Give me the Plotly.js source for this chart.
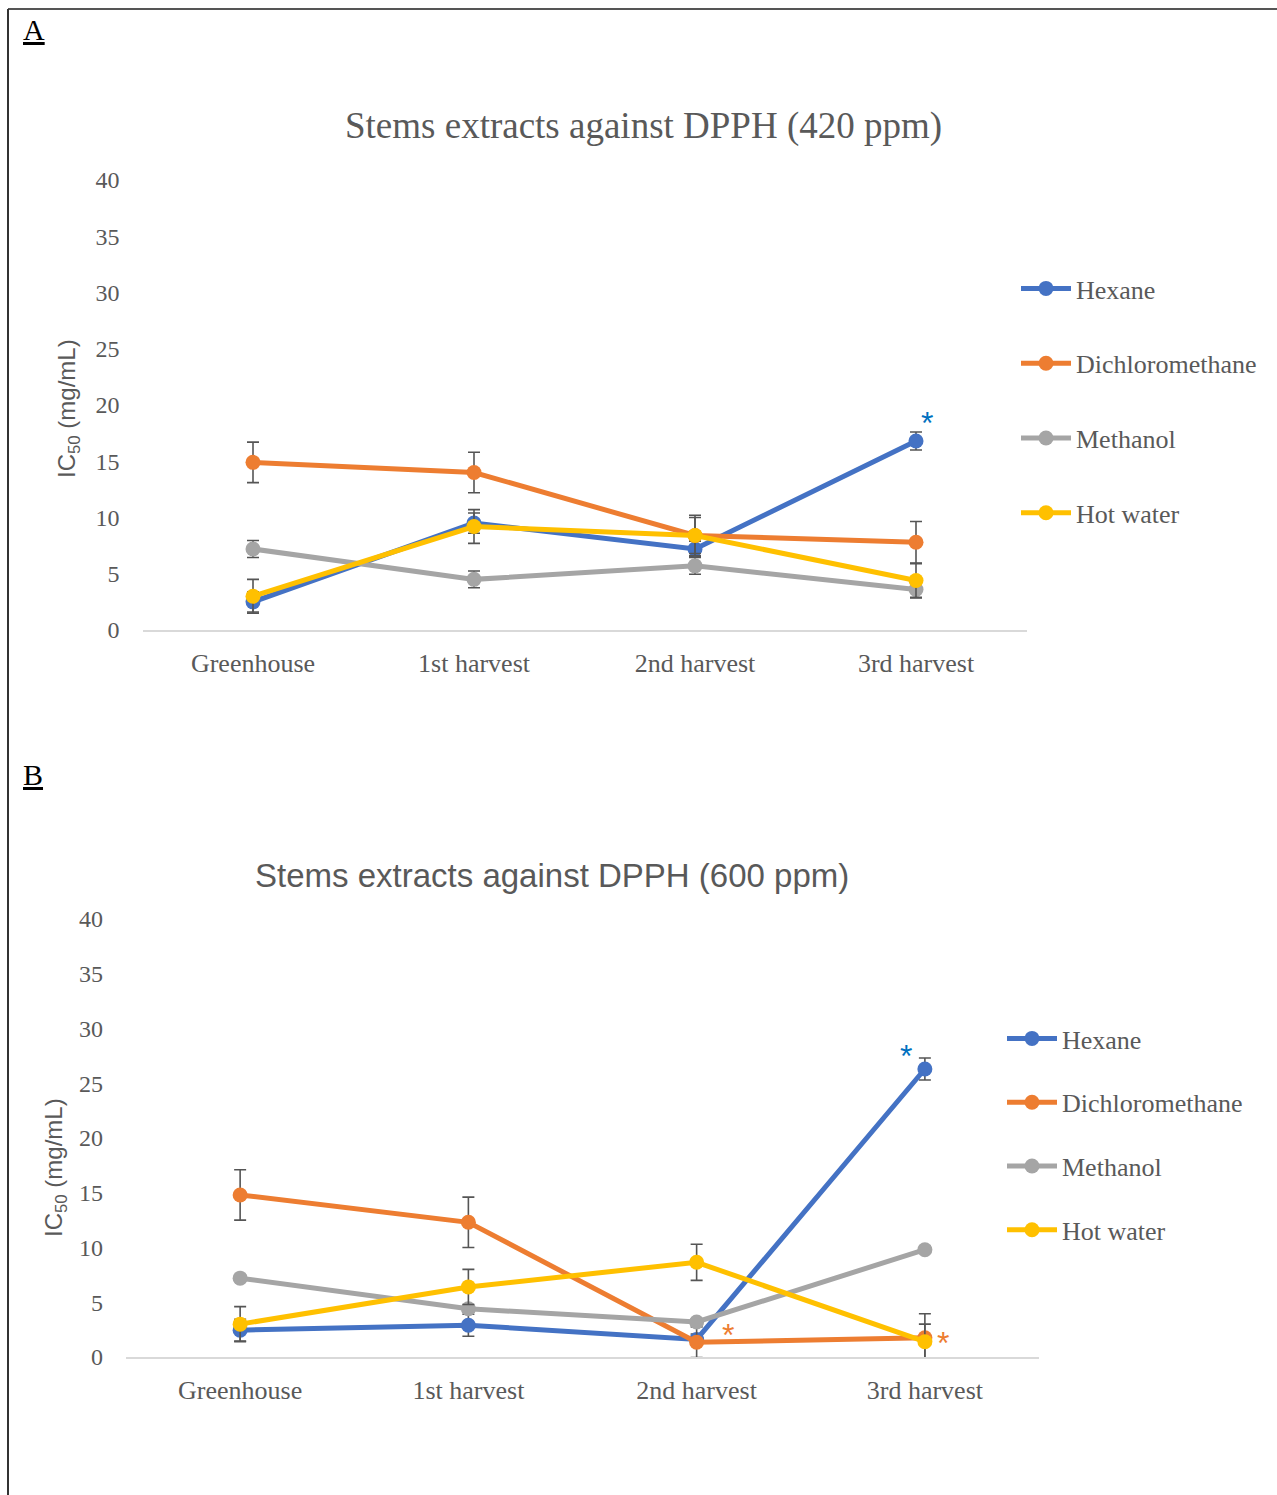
<!DOCTYPE html>
<html>
<head>
<meta charset="utf-8">
<script src="https://cdn.plot.ly/plotly-3.0.1.min.js"></script>
<style>html,body{margin:0;padding:0;background:#fff;}#chart{width:1277px;height:1495px;}</style>
</head>
<body>
<div id="chart"></div>
<script>
// ---- data ----
var categories = ['Greenhouse', '1st harvest', '2nd harvest', '3rd harvest'];
var seriesNames = ['Hexane', 'Dichloromethane', 'Methanol', 'Hot water'];
var seriesColors = ['#4472C4', '#ED7D31', '#A5A5A5', '#FFC000'];
var yTicks = [0, 5, 10, 15, 20, 25, 30, 35, 40];

// Panel A (420 ppm)
var hexaneA = [2.5, 9.5, 7.2, 16.8];
var hexaneErrA = [0.9, 0.9, 0.7, 0.8];
var dcmA = [14.9, 14.0, 8.4, 7.8];
var dcmErrA = [1.8, 1.8, 1.8, 1.85];
var methanolA = [7.2, 4.5, 5.7, 3.6];
var methanolErrA = [0.75, 0.75, 0.75, 0.75];
var hotWaterA = [3.0, 9.2, 8.4, 4.4];
var hotWaterErrA = [1.5, 1.5, 1.6, 1.5];

// Panel B (600 ppm)
var hexaneB = [2.45, 2.9, 1.6, 26.3];
var hexaneErrB = [1.0, 1.0, 0.5, 1.0];
var dcmB = [14.8, 12.3, 1.35, 1.75];
var dcmErrB = [2.3, 2.3, 1.4, 2.2];
var methanolB = [7.2, 4.4, 3.2, 9.8];
var methanolErrB = [0.3, 0.3, 0.3, 0.3];
var hotWaterB = [3.0, 6.4, 8.65, 1.4];
var hotWaterErrB = [1.6, 1.6, 1.65, 1.6];

// significance markers
var starCats = ['3rd harvest', '3rd harvest', '2nd harvest', '3rd harvest'];
var starY = [18.4, 27.5, 2.0, 1.3];
var starPanel = ['A', 'B', 'B', 'B'];
var starColor = ['#0070C0', '#0070C0', '#ED7D31', '#ED7D31'];
var starShift = [11, -19, 31, 18];

var seriesA = [hexaneA, dcmA, methanolA, hotWaterA];
var errA = [hexaneErrA, dcmErrA, methanolErrA, hotWaterErrA];
var seriesB = [hexaneB, dcmB, methanolB, hotWaterB];
var errB = [hexaneErrB, dcmErrB, methanolErrB, hotWaterErrB];

var W = 1277, H = 1495;
function px(x) { return x / W; }
function py(y) { return 1 - y / H; }

var serif = 'Liberation Serif, Times New Roman, serif';
var sans = 'Liberation Sans, Arial, sans-serif';
var grey = '#595959';

var traces = [];
function addPanel(vals, errs, xa, ya, legendId, groupSuffix) {
  for (var i = 0; i < 4; i++) {
    traces.push({
      type: 'scatter', mode: 'lines+markers',
      x: categories, y: vals[i], name: seriesNames[i],
      xaxis: xa, yaxis: ya, legend: legendId,
      legendgroup: seriesNames[i] + groupSuffix,
      cliponaxis: false,
      line: {color: seriesColors[i], width: 5},
      marker: {color: seriesColors[i], size: 15},
      error_y: {type: 'data', array: errs[i], visible: true, color: '#555555', thickness: 1.6, width: 6}
    });
  }
}
addPanel(seriesA, errA, 'x', 'y', 'legend', 'A');
addPanel(seriesB, errB, 'x2', 'y2', 'legend2', 'B');

var xCommon = {
  type: 'category', range: [-0.5, 3.5], showline: true, linecolor: '#D9D9D9', linewidth: 1.5,
  showgrid: false, zeroline: false, ticks: '', ticklabelstandoff: 9,
  tickfont: {family: serif, size: 26, color: grey}, fixedrange: true
};
var yCommon = {
  range: [0, 40], tickvals: yTicks, showline: false, showgrid: false, zeroline: false,
  ticks: '', ticklabelstandoff: 22, tickfont: {family: serif, size: 24, color: grey}
};

var annotations = [
  {text: '<u>A</u>', xref: 'paper', yref: 'paper', x: px(21), y: py(30), xanchor: 'left', yanchor: 'middle',
   showarrow: false, font: {family: serif, size: 30, color: '#000'}},
  {text: '<u>B</u>', xref: 'paper', yref: 'paper', x: px(21), y: py(774), xanchor: 'left', yanchor: 'middle',
   showarrow: false, font: {family: serif, size: 30, color: '#000'}},
  {text: 'Stems extracts against DPPH (420 ppm)', xref: 'paper', yref: 'paper', x: px(643), y: py(126),
   xanchor: 'center', yanchor: 'middle', showarrow: false, font: {family: serif, size: 37, color: grey}},
  {text: 'Stems extracts against DPPH (600 ppm)', xref: 'paper', yref: 'paper', x: px(552), y: py(875),
   xanchor: 'center', yanchor: 'middle', showarrow: false, font: {family: sans, size: 33, color: grey}},
  {text: 'IC<sub>50</sub> (mg/mL)', xref: 'paper', yref: 'paper', x: px(68), y: py(409), textangle: -90,
   xanchor: 'center', yanchor: 'middle', showarrow: false, font: {family: sans, size: 24, color: grey}},
  {text: 'IC<sub>50</sub> (mg/mL)', xref: 'paper', yref: 'paper', x: px(55), y: py(1168), textangle: -90,
   xanchor: 'center', yanchor: 'middle', showarrow: false, font: {family: sans, size: 24, color: grey}}
];
for (var s = 0; s < starCats.length; s++) {
  annotations.push({
    text: '*', xref: starPanel[s] === 'A' ? 'x' : 'x2', yref: starPanel[s] === 'A' ? 'y' : 'y2',
    x: starCats[s], y: starY[s], xshift: starShift[s], showarrow: false,
    xanchor: 'center', yanchor: 'middle',
    font: {family: sans, size: 32, color: starColor[s]}
  });
}

var layout = {
  width: W, height: H, margin: {l: 0, r: 0, t: 0, b: 0},
  paper_bgcolor: '#fff', plot_bgcolor: '#fff',
  xaxis: Object.assign({}, xCommon, {domain: [px(142.5), px(1026.5)], anchor: 'y'}),
  yaxis: Object.assign({}, yCommon, {domain: [py(630), py(180)], anchor: 'x'}),
  xaxis2: Object.assign({}, xCommon, {domain: [px(126), px(1039)], anchor: 'y2'}),
  yaxis2: Object.assign({}, yCommon, {domain: [py(1357), py(919)], anchor: 'x2'}),
  legend: {x: px(1016), y: py(265), xanchor: 'left', yanchor: 'top', traceorder: 'grouped', tracegroupgap: 38,
           itemwidth: 50, font: {family: serif, size: 26, color: grey}, bgcolor: 'rgba(0,0,0,0)', itemclick: false},
  legend2: {x: px(1002), y: py(1015), xanchor: 'left', yanchor: 'top', traceorder: 'grouped', tracegroupgap: 27,
           itemwidth: 50, font: {family: serif, size: 26, color: grey}, bgcolor: 'rgba(0,0,0,0)', itemclick: false},
  showlegend: true,
  annotations: annotations,
  shapes: [
    {type: 'line', xref: 'paper', yref: 'paper', x0: px(8), x1: 1, y0: py(9), y1: py(9), line: {color: '#555555', width: 2}},
    {type: 'line', xref: 'paper', yref: 'paper', x0: px(8), x1: px(8), y0: py(9), y1: 0, line: {color: '#333333', width: 2}}
  ]
};

Plotly.newPlot('chart', traces, layout, {displayModeBar: false, staticPlot: true});
</script>
</body>
</html>
